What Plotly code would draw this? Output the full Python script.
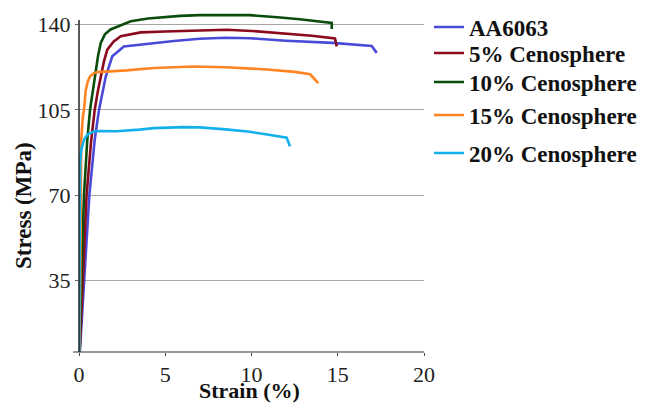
import plotly.graph_objects as go

# ---- data (strain %, stress MPa) ----
names = ["AA6063", "5% Cenosphere", "10% Cenosphere", "15% Cenosphere", "20% Cenosphere"]
colors = ["#4a4ad8", "#8b0a1e", "#0b4d0b", "#ff8424", "#14b0ec"]

aa_x = [0, 0.12, 0.3, 0.6, 0.91, 1.16, 1.55, 1.93, 2.6, 4.35, 5.5, 7.0, 8.5, 9.9, 12.0, 14.7, 16.5, 16.97, 17.26]
aa_y = [0, 15, 35, 70, 92.7, 105, 118.7, 127, 131, 132.5, 133.3, 134.2, 134.6, 134.4, 133.4, 132.5, 131.6, 131.2, 128.4]

c5_x = [0, 0.1, 0.23, 0.44, 0.7, 0.91, 1.1, 1.26, 1.45, 1.64, 2.0, 2.42, 3.58, 5.0, 7.0, 8.56, 10.0, 11.85, 13.5, 14.84, 14.94]
c5_y = [0, 15, 35, 70, 92, 105, 113, 118.7, 125, 129.7, 133, 135.2, 136.8, 137.2, 137.6, 137.9, 137.4, 136.5, 135.4, 134.3, 131]

c10_x = [0, 0.06, 0.13, 0.29, 0.48, 0.64, 0.91, 1.1, 1.26, 1.5, 1.83, 3.0, 4.0, 5.86, 7.0, 9.0, 9.9, 11.5, 12.8, 14.65, 14.65]
c10_y = [0, 20, 35, 70, 92.7, 105, 118.7, 127, 132.5, 136, 138, 141.4, 142.5, 143.6, 143.9, 144.1, 143.9, 143, 142.2, 140.7, 138.2]

c15_x = [0, 0.03, 0.07, 0.1, 0.13, 0.22, 0.29, 0.39, 0.5, 0.64, 0.85, 1.06, 2.76, 4.35, 6.63, 8.5, 10.9, 12.5, 13.4, 13.87]
c15_y = [0, 10, 35, 65, 92.7, 102, 105, 113, 116.5, 118.7, 120, 120.5, 121.2, 122.2, 122.8, 122.5, 121.6, 120.6, 119.6, 116]

c20_x = [0, 0.02, 0.03, 0.05, 0.06, 0.13, 0.29, 0.5, 0.87, 1.3, 2.19, 3.5, 4.35, 6.0, 7.0, 8.5, 9.9, 11.0, 12.04, 12.23]
c20_y = [0, 10, 35, 70, 83, 88.6, 92.7, 95, 96.1, 96.3, 96.2, 96.9, 97.5, 97.9, 97.8, 97, 96, 94.8, 93.6, 90]

xs = [aa_x, c5_x, c10_x, c15_x, c20_x]
ys = [aa_y, c5_y, c10_y, c15_y, c20_y]

x_ticks = [0, 5, 10, 15, 20]
y_ticks = [35, 70, 105, 140]

# ---- layout geometry (page pixels; the page body adds an 8px offset) ----
OFF = 8
W, H = 649 - OFF, 403 - OFF
PL, PR, PT, PB = 79, 424, 10, 352   # plot area edges in page pixels
ML, MT = PL - OFF, PT - OFF
MR = W - (PR - OFF)
MB = H - (PB - OFF)
YMIN, YMAX = 5.6, 146
plot_h = PB - PT
plot_w = PR - PL

def py(page_y):
    return (PB - page_y) / plot_h

def px(page_x):
    return (page_x - PL) / plot_w

legend_y_px = [27, 53, 82, 115, 153]

fig = go.Figure()
for i in range(5):
    lg = "legend" if i == 0 else f"legend{i+1}"
    fig.add_trace(go.Scatter(
        x=xs[i], y=ys[i], mode="lines", name=names[i],
        line=dict(color=colors[i], width=2.6),
        legend=lg, hoverinfo="skip",
    ))

serif = "Liberation Serif"
layout_legends = {}
for i in range(5):
    key = "legend" if i == 0 else f"legend{i+1}"
    layout_legends[key] = dict(
        x=px(429), y=py(legend_y_px[i]), xanchor="left", yanchor="middle",
        font=dict(family=serif, size=23, color="#111", weight="bold"),
        bgcolor="rgba(0,0,0,0)", borderwidth=0,
        tracegroupgap=0,
    )

fig.update_layout(
    width=W, height=H,
    margin=dict(l=ML, r=MR, t=MT, b=MB, pad=0, autoexpand=False),
    paper_bgcolor="white", plot_bgcolor="white",
    showlegend=True,
    font=dict(family=serif, color="#222"),
    **layout_legends,
)

fig.update_xaxes(
    range=[0, 20], tickvals=x_ticks, ticktext=[str(v) for v in x_ticks],
    showgrid=False, zeroline=False, showline=False,
    ticks="outside", ticklen=3, tickcolor="#444", tickwidth=1,
    tickfont=dict(family=serif, size=22, color="#222"),
)
fig.update_yaxes(
    range=[YMIN, YMAX], tickvals=y_ticks, ticktext=[str(v) for v in y_ticks],
    showgrid=True, gridcolor="#a6a6a6", gridwidth=1,
    zeroline=False, showline=False,
    ticks="outside", ticklen=3, tickcolor="#666", tickwidth=1,
    tickfont=dict(family=serif, size=22, color="#222"),
)

# axis lines
fig.add_shape(type="line", xref="paper", yref="paper",
              x0=px(73), x1=px(424), y0=0, y1=0,
              line=dict(color="#333", width=1.2))
fig.add_shape(type="line", xref="paper", yref="paper",
              x0=0, x1=0, y0=0, y1=py(20),
              line=dict(color="#222", width=1.5))

# axis titles
fig.add_annotation(text="<b>Strain (%)</b>", xref="paper", yref="paper",
                   x=px(249), y=py(391), xanchor="center", yanchor="middle",
                   showarrow=False, font=dict(family=serif, size=22, color="#111"))
fig.add_annotation(text="<b>Stress (MPa)</b>", xref="paper", yref="paper",
                   x=px(23), y=py(206), xanchor="center", yanchor="middle",
                   textangle=-90, showarrow=False,
                   font=dict(family=serif, size=23, color="#111"))

fig.write_html("out.html")
